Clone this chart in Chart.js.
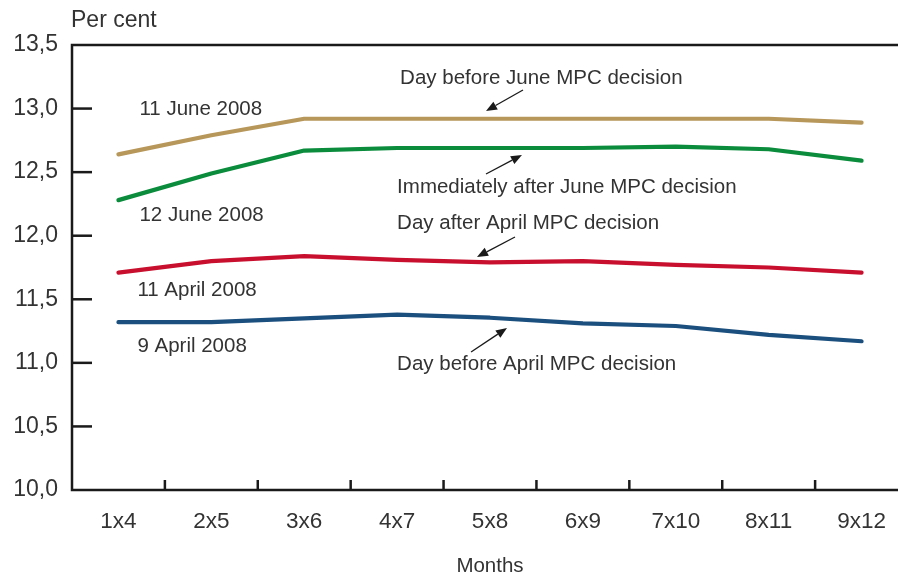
<!DOCTYPE html>
<html>
<head>
<meta charset="utf-8">
<script src="https://cdn.jsdelivr.net/npm/chart.js@4.4.1/dist/chart.umd.min.js"></script>
<style>
html, body { margin: 0; padding: 0; background: #fff; overflow: hidden; }
#wrap { width: 910px; height: 574px; }
</style>
</head>
<body>
<div id="wrap"><canvas id="chart" width="910" height="574"></canvas></div>
<script>
// Forward rate curves, per cent
const maturities = ['1x4', '2x5', '3x6', '4x7', '5x8', '6x9', '7x10', '8x11', '9x12'];
const june11 = [12.64, 12.79, 12.92, 12.92, 12.92, 12.92, 12.92, 12.92, 12.89];
const june12 = [12.28, 12.49, 12.67, 12.69, 12.69, 12.69, 12.70, 12.68, 12.59];
const april11 = [11.71, 11.80, 11.84, 11.81, 11.79, 11.80, 11.77, 11.75, 11.71];
const april9 = [11.32, 11.32, 11.35, 11.38, 11.355, 11.31, 11.29, 11.22, 11.17];
const yTicks = [10.0, 10.5, 11.0, 11.5, 12.0, 12.5, 13.0, 13.5];

// labels placed in data space (category index, value)
const notes = [
    { text: '11 June 2008', x: 0.226, y: 12.99 },
    { text: '12 June 2008', x: 0.226, y: 12.163 },
    { text: '11 April 2008', x: 0.204, y: 11.573 },
    { text: '9 April 2008', x: 0.204, y: 11.133 },
    { text: 'Day before June MPC decision', x: 3.032, y: 13.241 },
    { text: 'Immediately after June MPC decision', x: 3.0, y: 12.383 },
    { text: 'Day after April MPC decision', x: 3.0, y: 12.10 },
    { text: 'Day before April MPC decision', x: 3.0, y: 10.991 }
];
const arrows = [
    { from: [4.355, 13.146], to: [3.957, 12.981] },
    { from: [3.957, 12.485], to: [4.344, 12.635] },
    { from: [4.269, 11.990], to: [3.860, 11.833] },
    { from: [3.796, 11.085], to: [4.183, 11.274] }
];

const FONT = "'Liberation Sans', Arial, sans-serif";
const TEXT = '#333333';

const px = (scale, i) => {
    const a = scale.getPixelForValue(Math.floor(i));
    const b = scale.getPixelForValue(Math.floor(i) + 1);
    return a + (b - a) * (i - Math.floor(i));
};

const framePlugin = {
    id: 'frame',
    beforeDatasetsDraw(chart) {
        const { ctx, chartArea: ca, scales: { x, y } } = chart;
        ctx.save();
        ctx.strokeStyle = '#1a1a1a';
        ctx.lineWidth = 2.5;
        ctx.beginPath();
        ctx.moveTo(chart.width, ca.top);
        ctx.lineTo(ca.left, ca.top);
        ctx.lineTo(ca.left, ca.bottom);
        ctx.lineTo(chart.width, ca.bottom);
        ctx.stroke();
        // inward ticks on y
        yTicks.forEach(v => {
            if (v <= 10 || v >= 13.5) return;
            const yy = y.getPixelForValue(v);
            ctx.beginPath();
            ctx.moveTo(ca.left, yy);
            ctx.lineTo(ca.left + 20, yy);
            ctx.stroke();
        });
        // x ticks between categories
        for (let i = 0; i < maturities.length - 1; i++) {
            const xx = px(x, i + 0.5);
            ctx.beginPath();
            ctx.moveTo(xx, ca.bottom);
            ctx.lineTo(xx, ca.bottom - 10);
            ctx.stroke();
        }
        // axis captions
        ctx.fillStyle = TEXT;
        ctx.textBaseline = 'middle';
        ctx.textAlign = 'left';
        ctx.font = '23px ' + FONT;
        ctx.fillText('Per cent', ca.left - 1, 21);
        ctx.font = '20.5px ' + FONT;
        ctx.textAlign = 'center';
        ctx.fillText('Months', (ca.left + ca.right) / 2, 566);
        ctx.restore();
    },
    afterDatasetsDraw(chart) {
        const { ctx, scales: { x, y } } = chart;
        ctx.save();
        ctx.fillStyle = TEXT;
        ctx.font = '20.5px ' + FONT;
        ctx.textBaseline = 'middle';
        ctx.textAlign = 'left';
        notes.forEach(n => ctx.fillText(n.text, px(x, n.x), y.getPixelForValue(n.y)));
        ctx.strokeStyle = '#1a1a1a';
        ctx.fillStyle = '#1a1a1a';
        ctx.lineWidth = 1.3;
        arrows.forEach(a => {
            const x1 = px(x, a.from[0]), y1 = y.getPixelForValue(a.from[1]);
            const x2 = px(x, a.to[0]), y2 = y.getPixelForValue(a.to[1]);
            const ang = Math.atan2(y2 - y1, x2 - x1);
            const hl = 11, hw = 4.5;
            const bx = x2 - hl * Math.cos(ang), by = y2 - hl * Math.sin(ang);
            ctx.beginPath();
            ctx.moveTo(x1, y1);
            ctx.lineTo(bx, by);
            ctx.stroke();
            ctx.beginPath();
            ctx.moveTo(x2, y2);
            ctx.lineTo(bx + hw * Math.sin(ang), by - hw * Math.cos(ang));
            ctx.lineTo(bx - hw * Math.sin(ang), by + hw * Math.cos(ang));
            ctx.closePath();
            ctx.fill();
        });
        ctx.restore();
    }
};

const line = (data, color) => ({
    data: data,
    borderColor: color,
    borderWidth: 4.2,
    borderCapStyle: 'round',
    borderJoinStyle: 'round',
    pointRadius: 0,
    tension: 0,
    clip: false
});

new Chart(document.getElementById('chart'), {
    type: 'line',
    data: {
        labels: maturities,
        datasets: [
            line(april9, '#1b4f7e'),
            line(april11, '#c8102e'),
            line(june12, '#0a8c3c'),
            line(june11, '#b8975a')
        ]
    },
    options: {
        responsive: false,
        animation: false,
        devicePixelRatio: 1,
        layout: { padding: { top: 45, right: 2, bottom: 0, left: 0 } },
        plugins: { legend: { display: false }, tooltip: { enabled: false } },
        scales: {
            x: {
                offset: true,
                grid: { display: false, drawTicks: false },
                border: { display: false },
                ticks: { color: TEXT, font: { family: FONT, size: 22.5 }, padding: 18.5, maxRotation: 0 },
                afterFit: s => { s.height = 84; }
            },
            y: {
                min: 10,
                max: 13.5,
                grid: { display: false, drawTicks: false },
                border: { display: false },
                afterBuildTicks: s => { s.ticks = yTicks.map(v => ({ value: v })); },
                ticks: {
                    color: TEXT,
                    font: { family: FONT, size: 23 },
                    padding: 14,
                    callback: v => v.toFixed(1).replace('.', ',')
                },
                afterFit: s => { s.width = 72; }
            }
        }
    },
    plugins: [framePlugin]
});
</script>
</body>
</html>
